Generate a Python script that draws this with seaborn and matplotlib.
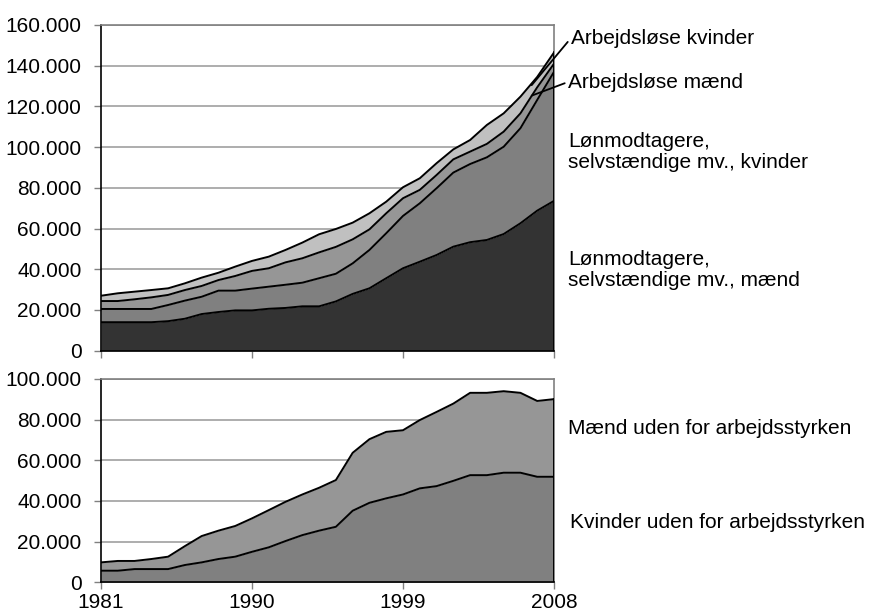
import numpy as np
import matplotlib.pyplot as plt
import seaborn as sns
from matplotlib.ticker import FuncFormatter

# Years on the x axis
years = list(range(1981, 2009))

# Top panel: stacked layers (persons)
men_employed = [14000, 14000, 14000, 14000, 14500, 15700, 18000, 19000, 19800, 19800,
                20600, 21000, 21800, 21800, 24200, 27900, 30650, 35600, 40500, 43700,
                47000, 51100, 53300, 54400, 57300, 62600, 68800, 73600]
women_employed = [6500, 6500, 6500, 6500, 7950, 8900, 8500, 10500, 9700, 10700,
                  10850, 11400, 11600, 13800, 13600, 15000, 18850, 22100, 25700, 28700,
                  32800, 36400, 38400, 40600, 42900, 46700, 54400, 63400]
unemployed_men = [3900, 3900, 4750, 5700, 4950, 5200, 5300, 5200, 7200, 8700,
                  9050, 11000, 12000, 12700, 13200, 11800, 10100, 9800, 8700, 6600,
                  6500, 6500, 6100, 6600, 7400, 7300, 6200, 4000]
unemployed_women = [2600, 3800, 3750, 3600, 3250, 3300, 4100, 3600, 4600, 4900,
                    5700, 6100, 7700, 8900, 8800, 8200, 7900, 5700, 5400, 5700,
                    5800, 4900, 5700, 9300, 9000, 8200, 5100, 5500]

# Bottom panel: outside the labour force
women_outside = [5700, 5700, 6500, 6500, 6500, 8500, 9800, 11450, 12600, 15000,
                 17200, 20300, 23200, 25400, 27300, 35200, 39100, 41300, 43200, 46200,
                 47300, 49900, 52700, 52700, 53900, 53900, 51900, 51900]
men_outside = [4100, 4800, 4000, 4950, 6100, 9300, 12950, 13950, 15100, 16450,
               18300, 19300, 20000, 21100, 23000, 28500, 31300, 32700, 31600, 33600,
               36500, 38000, 40500, 40500, 40100, 39300, 37300, 38200]

top_labels = ["Lønmodtagere,\nselvstændige mv., mænd",
              "Lønmodtagere,\nselvstændige mv., kvinder",
              "Arbejdsløse mænd", "Arbejdsløse kvinder"]
bottom_labels = ["Kvinder uden for arbejdsstyrken", "Mænd uden for arbejdsstyrken"]
year_ticks = [1981, 1990, 1999, 2008]

sns.set_style("white")
plt.rcParams['font.family'] = ['Liberation Sans', 'DejaVu Sans']
plt.rcParams['font.size'] = 15
plt.rcParams['text.color'] = 'black'
plt.rcParams['xtick.labelcolor'] = 'black'
plt.rcParams['ytick.labelcolor'] = 'black'

W, H = 872, 616
fig = plt.figure(figsize=(W / 100, H / 100), dpi=100)


def px_axes(left, top, right, bottom):
    return fig.add_axes([left / W, 1 - bottom / H, (right - left) / W, (bottom - top) / H])


ax1 = px_axes(101, 25, 554, 350.7)
ax2 = px_axes(101, 379, 554, 582.3)

thousands = FuncFormatter(lambda v, p: f"{int(v):,}".replace(",", "."))


def draw_stack(ax, layers, colors, ymax, step):
    ax.stackplot(years, *layers, colors=colors, linewidth=0, zorder=2)
    cum = np.cumsum(np.array(layers), axis=0)
    for row in cum:
        sns.lineplot(x=years, y=row, color="black", lw=1.4, ax=ax, zorder=3)
    ax.plot([years[-1], years[-1]], [0, cum[-1][-1]], color="black", lw=1.4, zorder=3)
    ax.set_xlim(years[0], years[-1])
    ax.set_ylim(0, ymax)
    ax.set_yticks(np.arange(0, ymax + 1, step))
    ax.yaxis.set_major_formatter(thousands)
    ax.set_xticks(year_ticks)
    ax.grid(axis="y", color="#a0a0a0", lw=1.2, zorder=1)
    ax.grid(axis="x", visible=False)
    ax.set_axisbelow(True)
    for s in ["top", "right"]:
        ax.spines[s].set_color("#808080")
        ax.spines[s].set_linewidth(1.2)
    for s in ["left", "bottom"]:
        ax.spines[s].set_color("black")
        ax.spines[s].set_linewidth(1.2)
    ax.tick_params(axis="both", direction="out", length=5, width=1, color="#808080",
                   labelsize=15, pad=9, left=True, bottom=True, labelcolor="black")
    ax.set_xlabel("")
    ax.set_ylabel("")
    return cum


cum1 = draw_stack(ax1, [men_employed, women_employed, unemployed_men, unemployed_women],
                  ["#333333", "#808080", "#969696", "#c0c0c0"], 160000, 20000)
ax1.set_xticklabels([])

cum2 = draw_stack(ax2, [women_outside, men_outside], ["#808080", "#969696"], 100000, 20000)
ax2.tick_params(axis="x", pad=3)


def fig_xy(x, y):
    return (x / W, 1 - y / H)


# Right-side labels
fig.text(*fig_xy(568, 270), top_labels[0], va="center", ha="left", fontsize=15, linespacing=1.1)
fig.text(*fig_xy(568, 152), top_labels[1], va="center", ha="left", fontsize=15, linespacing=1.1)
fig.text(*fig_xy(568, 428), bottom_labels[1], va="center", ha="left", fontsize=15)
fig.text(*fig_xy(570, 523), bottom_labels[0], va="center", ha="left", fontsize=15)

# Leader lines for the thin unemployment bands
x_lead = 2006.67
ax1.annotate(top_labels[3], xy=(x_lead, (cum1[2][-2] + cum1[3][-2]) / 2 - 1500),
             xytext=fig_xy(571, 38), textcoords="figure fraction", va="center", ha="left",
             fontsize=15, arrowprops=dict(arrowstyle="-", color="black", lw=1.3,
                                          relpos=(0, 0.5), shrinkA=0, shrinkB=0))
ax1.annotate(top_labels[2], xy=(x_lead, (cum1[1][-2] + cum1[2][-2]) / 2 - 1000),
             xytext=fig_xy(568, 82), textcoords="figure fraction", va="center", ha="left",
             fontsize=15, arrowprops=dict(arrowstyle="-", color="black", lw=1.3,
                                          relpos=(0, 0.5), shrinkA=0, shrinkB=0))

fig.savefig("out.png", dpi=100)
